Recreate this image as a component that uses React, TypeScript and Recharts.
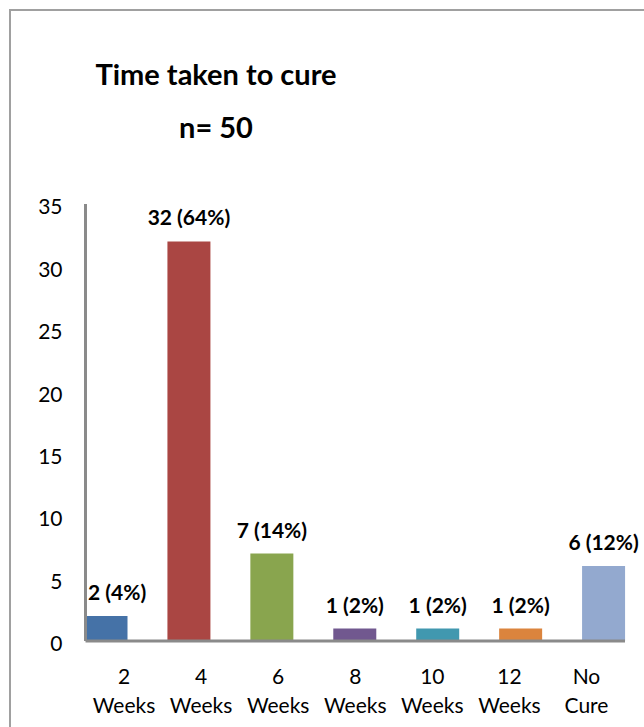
import { BarChart, Bar, XAxis, YAxis, Cell } from 'recharts'

const categories = ['2 Weeks', '4 Weeks', '6 Weeks', '8 Weeks', '10 Weeks', '12 Weeks', 'No Cure']
const patients = [2, 32, 7, 1, 1, 1, 6]
const percents = [4, 64, 14, 2, 2, 2, 12]
const colors = ['#4572A7', '#AA4643', '#89A54E', '#71588F', '#4198AF', '#DB843D', '#93A9CF']
const yTicks = [0, 5, 10, 15, 20, 25, 30, 35]

const data = categories.map((name, i) => ({ name, patients: patients[i] }))

const FONT = 'Lato, "Open Sans", sans-serif'
const AXIS_COLOR = '#8a8a8a'
const PLOT_LEFT = 85.5

function YTick({ x, y, payload }: any) {
  return (
    <text x={x} y={y + 3} dy="0.35em" textAnchor="end" fontFamily={FONT} fontSize={21} fill="#000">
      {payload.value}
    </text>
  )
}

function XTick({ x, y, payload }: any) {
  const lines = String(payload.value).split(' ')
  return (
    <text textAnchor="middle" fontFamily={FONT} fontSize={21} fill="#000">
      <tspan x={x} y={y + 43}>{lines[0]}</tspan>
      <tspan x={x} y={y + 72}>{lines[1]}</tspan>
    </text>
  )
}

function BarLabel({ x, y, width, value, index }: any) {
  const text = `${value} (${percents[index]}%)`
  const cx = x + width / 2
  // keep the label clear of the value axis, like the first column
  const nearAxis = cx - 33 < PLOT_LEFT
  return (
    <text
      x={nearAxis ? PLOT_LEFT + 2.5 : cx}
      y={y - 16}
      textAnchor={nearAxis ? 'start' : 'middle'}
      fontFamily={FONT}
      fontWeight="bold"
      fontSize={21}
      fill="#000"
    >
      {text}
    </text>
  )
}

export default function App() {
  return (
    <div style={{ position: 'fixed', left: 0, top: 0, width: 644, height: 727, overflow: 'hidden', background: '#fff' }}>
      <div
        style={{
          position: 'absolute',
          left: 9,
          top: 9,
          width: 635,
          height: 718,
          boxSizing: 'border-box',
          borderLeft: '2px solid #a0a0a0',
          borderTop: '2px solid #a0a0a0',
        }}
      />
      <svg width={644} height={200} style={{ position: 'absolute', left: 0, top: 0 }}>
        <text x={216} y={85} textAnchor="middle" fontFamily={FONT} fontWeight="bold" fontSize={29} fill="#000">
          Time taken to cure
        </text>
        <text x={216} y={138} textAnchor="middle" fontFamily={FONT} fontWeight="bold" fontSize={29} fill="#000">
          n= 50
        </text>
      </svg>
      <div style={{ position: 'absolute', left: 0, top: 0 }}>
        <BarChart width={644} height={727} data={data} margin={{ top: 204, right: 19, bottom: 6, left: 0 }}>
          <XAxis xAxisId="bars" dataKey="name" hide height={0} padding={{ left: -21, right: -20 }} />
          <XAxis
            xAxisId="labels"
            dataKey="name"
            height={80}
            axisLine={{ stroke: AXIS_COLOR, strokeWidth: 3 }}
            tickLine={false}
            tickSize={0}
            tickMargin={0}
            interval={0}
            tick={<XTick />}
          />
          <YAxis
            width={PLOT_LEFT}
            domain={[0, 35]}
            ticks={yTicks}
            axisLine={{ stroke: AXIS_COLOR, strokeWidth: 3 }}
            tickLine={false}
            tickSize={0}
            tickMargin={23}
            tick={<YTick />}
          />
          <Bar xAxisId="bars" dataKey="patients" barSize={43} isAnimationActive={false} label={<BarLabel />}>
            {data.map((d, i) => (
              <Cell key={d.name} fill={colors[i]} />
            ))}
          </Bar>
        </BarChart>
      </div>
    </div>
  )
}
